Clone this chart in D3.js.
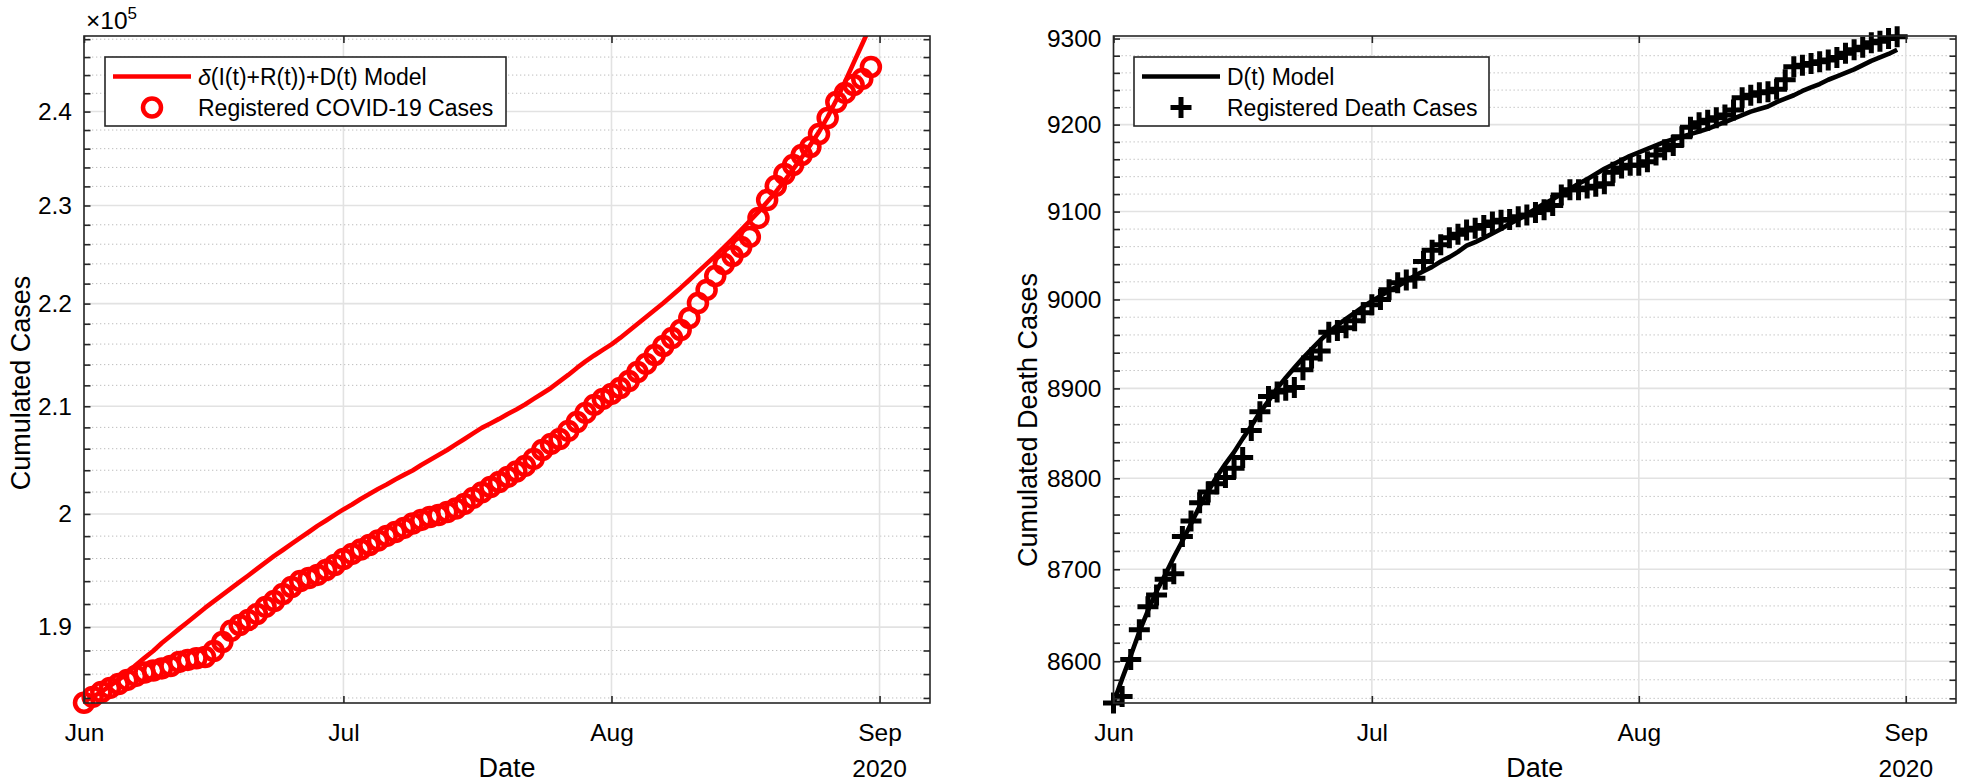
<!DOCTYPE html>
<html>
<head>
<meta charset="utf-8">
<script src="https://cdn.jsdelivr.net/npm/d3@7"></script>
<style>
  html, body { margin: 0; padding: 0; background: #ffffff; }
  svg { display: block; }
  text { font-family: "Liberation Sans", Arial, Helvetica, sans-serif; }
</style>
</head>
<body>
<svg id="chart" width="1961" height="782"></svg>
<script>
// ---------------- DATA ----------------
const startDay = "2020-06-01";           // first observation (one per day)
const xTickDates = ["2020-06-01", "2020-07-01", "2020-08-01", "2020-09-01"];
const xTickLabels = ["Jun", "Jul", "Aug", "Sep"];
const xYearLabel = "2020";

// Registered COVID-19 cases (cumulated), Jun 1 .. Aug 31
const casesObserved = [
  183600, 184090, 184500, 184840, 185170, 185510, 185850, 186140, 186310, 186480,
  186690, 187030, 187200, 187330, 187450, 187960, 188730, 189680, 190190, 190620,
  191140, 191750, 192270, 192880, 193490, 194020, 194280, 194550, 194990, 195430,
  195960, 196410, 196810, 197210, 197610, 198020, 198370, 198740, 199140, 199460,
  199730, 199910, 200180, 200500, 200910, 201460, 201960, 202460, 202920, 203380,
  203890, 204400, 205050, 205880, 206450, 206910, 207670, 208510, 209370, 210130,
  210700, 211180, 211750, 212420, 213290, 214070, 214940, 215820, 216600, 217390,
  218570, 220060, 221370, 222770, 223990, 224800, 225720, 226750, 228710, 230580,
  232050, 233310, 234260, 235330, 236180, 237580, 239310, 241050, 242040, 242910,
  243580, 244900
];
// delta(I(t)+R(t))+D(t) model
const casesModel = [
  183670, 184090, 184500, 185010, 185510, 186100, 186770, 187370, 187960, 188640,
  189240, 189850, 190450, 191050, 191660, 192230, 192790, 193360, 193930, 194500,
  195080, 195650, 196230, 196760, 197300, 197840, 198370, 198920, 199410, 199910,
  200410, 200860, 201360, 201820, 202280, 202690, 203150, 203570, 203980, 204490,
  204950, 205420, 205880, 206400, 206910, 207430, 207950, 208370, 208800, 209270,
  209700, 210170, 210700, 211220, 211750, 212380, 213000, 213680, 214310, 214890,
  215430, 215970, 216600, 217290, 217980, 218670, 219370, 220060, 220810, 221570,
  222370, 223180, 223990, 224800, 225670, 226540, 227470, 228400, 229330, 230370,
  231420, 232570, 233790, 235060, 236400, 237800, 239420, 241270, 243240, 245350,
  247470, 249610
];
// Registered death cases (cumulated)
const deathsObserved = [
  8555, 8562, 8602, 8634, 8659, 8672, 8689, 8695, 8736, 8753,
  8773, 8785, 8794, 8801, 8811, 8823, 8853, 8874, 8891, 8896,
  8898, 8901, 8921, 8934, 8942, 8963, 8965, 8968, 8976, 8985,
  8994, 9000, 9011, 9019, 9022, 9024, 9043, 9056, 9062, 9070,
  9074, 9079, 9081, 9084, 9088, 9090, 9091, 9094, 9096, 9099,
  9102, 9107, 9119, 9125, 9125, 9127, 9129, 9132, 9145, 9150,
  9153, 9153, 9157, 9165, 9171, 9176, 9186, 9197, 9202, 9205,
  9208, 9211, 9217, 9231, 9234, 9237, 9238, 9241, 9252, 9267,
  9269, 9271, 9273, 9275, 9278, 9283, 9287, 9290, 9295, 9297,
  9300, 9302
];
// D(t) model
const deathsModel = [
  8555, 8581, 8606, 8632, 8655, 8676, 8694, 8713, 8731, 8750,
  8769, 8786, 8802, 8816, 8829, 8844, 8858, 8873, 8886, 8900,
  8912, 8923, 8934, 8944, 8954, 8963, 8971, 8978, 8985, 8992,
  8998, 9004, 9010, 9015, 9021, 9027, 9032, 9037, 9043, 9048,
  9054, 9061, 9065, 9070, 9075, 9080, 9086, 9091, 9097, 9103,
  9109, 9114, 9120, 9126, 9132, 9137, 9143, 9149, 9154, 9159,
  9164, 9168, 9172, 9176, 9180, 9183, 9186, 9189, 9192, 9195,
  9199, 9203, 9207, 9211, 9215, 9218, 9221, 9226, 9230, 9234,
  9239, 9243, 9247, 9252, 9256, 9260, 9264, 9269, 9274, 9278,
  9282, 9287
];

const casesYDomain = [183580, 248360];
const casesYTicks = [190000, 200000, 210000, 220000, 230000, 240000];
const casesYTickLabels = ["1.9", "2", "2.1", "2.2", "2.3", "2.4"];
const casesYMinorStep = 2000;

const deathsYDomain = [8555, 9303];
const deathsYTicks = [8600, 8700, 8800, 8900, 9000, 9100, 9200, 9300];
const deathsYTickLabels = ["8600", "8700", "8800", "8900", "9000", "9100", "9200", "9300"];
const deathsYMinorStep = 20;

// ---------------- DRAWING ----------------
const svg = d3.select("#chart");
const parse = d3.utcParse("%Y-%m-%d");
const t0 = parse(startDay);
const dates = casesObserved.map((_, i) => d3.utcDay.offset(t0, i));
const xDomain = [t0, d3.utcHour.offset(parse("2020-09-06"), 20)];
const tickDates = xTickDates.map(parse);

const AX = "#262626";
const TICK_FS = 24.5, LABEL_FS = 27, LEGEND_FS = 23;

function minorTicks(domain, step) {
  const lo = Math.ceil(domain[0] / step) * step;
  return d3.range(lo, domain[1] + 1e-9, step);
}

function drawPanel(o) {
  const x = d3.scaleUtc().domain(xDomain).range([o.left, o.right]);
  const y = d3.scaleLog().domain(o.yDomain).range([o.bottom, o.top]);
  const g = svg.append("g");

  svg.append("clipPath").attr("id", o.id + "clip")
    .append("rect").attr("x", o.left).attr("y", o.top)
    .attr("width", o.right - o.left).attr("height", o.bottom - o.top);

  const minors = minorTicks(o.yDomain, o.minorStep).filter(v => !o.yTicks.includes(v));

  // minor horizontal grid (dotted)
  g.append("g").selectAll("line").data(minors).join("line")
    .attr("x1", o.left).attr("x2", o.right)
    .attr("y1", d => y(d)).attr("y2", d => y(d))
    .attr("stroke", "#bdbdbd").attr("stroke-width", 1)
    .attr("stroke-dasharray", "1.3,2.7");
  // major horizontal grid
  g.append("g").selectAll("line").data(o.yTicks).join("line")
    .attr("x1", o.left).attr("x2", o.right)
    .attr("y1", d => y(d)).attr("y2", d => y(d))
    .attr("stroke", "#e2e2e2").attr("stroke-width", 1.6);
  // vertical grid
  g.append("g").selectAll("line").data(tickDates).join("line")
    .attr("x1", d => x(d)).attr("x2", d => x(d))
    .attr("y1", o.top).attr("y2", o.bottom)
    .attr("stroke", "#e2e2e2").attr("stroke-width", 1.6);

  // model line
  const line = d3.line().x((d, i) => x(dates[i])).y(d => y(d));
  g.append("path").datum(o.model)
    .attr("d", line).attr("fill", "none")
    .attr("stroke", o.color).attr("stroke-width", 4.6)
    .attr("stroke-linejoin", "round")
    .attr("clip-path", `url(#${o.id}clip)`);

  // observed markers
  const mk = g.append("g");
  if (o.marker === "circle") {
    mk.selectAll("circle").data(o.observed).join("circle")
      .attr("cx", (d, i) => x(dates[i])).attr("cy", d => y(d))
      .attr("r", 9).attr("fill", "none")
      .attr("stroke", o.color).attr("stroke-width", 4.5);
  } else {
    mk.selectAll("path").data(o.observed).join("path")
      .attr("transform", (d, i) => `translate(${x(dates[i])},${y(d)})`)
      .attr("d", "M-10.5,0H10.5M0,-10.5V10.5")
      .attr("stroke", o.color).attr("stroke-width", 5).attr("fill", "none");
  }

  // axes box
  g.append("rect").attr("x", o.left).attr("y", o.top)
    .attr("width", o.right - o.left).attr("height", o.bottom - o.top)
    .attr("fill", "none").attr("stroke", AX).attr("stroke-width", 1.6);

  const styleAxis = sel => {
    sel.select(".domain").remove();
    sel.selectAll(".tick line").attr("stroke", AX).attr("stroke-width", 1.6);
    sel.selectAll("text").attr("fill", "#000").attr("font-size", TICK_FS)
      .attr("font-family", '"Liberation Sans", Arial, Helvetica, sans-serif');
  };

  // y axis left (major with labels)
  g.append("g").attr("transform", `translate(${o.left},0)`)
    .call(d3.axisLeft(y).tickValues(o.yTicks)
      .tickFormat((d, i) => o.yLabels[i]).tickSize(-6.5).tickPadding(12))
    .call(styleAxis);
  // y minor ticks left/right, major right
  g.append("g").attr("transform", `translate(${o.left},0)`)
    .call(d3.axisLeft(y).tickValues(minors).tickFormat("").tickSize(-6.5))
    .call(styleAxis);
  g.append("g").attr("transform", `translate(${o.right},0)`)
    .call(d3.axisRight(y).tickValues(o.yTicks.concat(minors)).tickFormat("").tickSize(-6.5))
    .call(styleAxis);

  // x axis bottom and top
  g.append("g").attr("transform", `translate(0,${o.bottom})`)
    .call(d3.axisBottom(x).tickValues(tickDates)
      .tickFormat((d, i) => xTickLabels[i]).tickSize(-7).tickPadding(21))
    .call(styleAxis);
  g.append("g").attr("transform", `translate(0,${o.top})`)
    .call(d3.axisTop(x).tickValues(tickDates).tickFormat("").tickSize(-7))
    .call(styleAxis);

  // year label under the last tick
  g.append("text").attr("x", x(tickDates[tickDates.length - 1])).attr("y", 777)
    .attr("text-anchor", "middle").attr("font-size", TICK_FS).attr("fill", "#000")
    .text(xYearLabel);

  // axis titles
  g.append("text").attr("x", (o.left + o.right) / 2).attr("y", 777)
    .attr("text-anchor", "middle").attr("font-size", LABEL_FS).attr("fill", "#000")
    .text("Date");
  g.append("text")
    .attr("transform", `translate(${o.ylabelX},${o.ylabelY}) rotate(-90)`)
    .attr("text-anchor", "middle").attr("font-size", LABEL_FS).attr("fill", "#000")
    .text(o.ylabel);

  // legend
  const L = o.legend;
  const lg = g.append("g");
  lg.append("rect").attr("x", L.x).attr("y", L.y).attr("width", L.w).attr("height", L.h)
    .attr("fill", "#fff").attr("stroke", AX).attr("stroke-width", 1.6);
  lg.append("line").attr("x1", L.x + 8).attr("x2", L.x + 86)
    .attr("y1", L.y + 19.5).attr("y2", L.y + 19.5)
    .attr("stroke", o.color).attr("stroke-width", 4.6);
  const mx = L.x + 47, my = L.y + 50.5;
  if (o.marker === "circle") {
    lg.append("circle").attr("cx", mx).attr("cy", my).attr("r", 9)
      .attr("fill", "none").attr("stroke", o.color).attr("stroke-width", 4.5);
  } else {
    lg.append("path").attr("transform", `translate(${mx},${my})`)
      .attr("d", "M-10.5,0H10.5M0,-10.5V10.5")
      .attr("stroke", o.color).attr("stroke-width", 5);
  }
  const t1 = lg.append("text").attr("x", L.x + 93).attr("y", L.y + 28)
    .attr("font-size", LEGEND_FS).attr("fill", "#000");
  L.label1(t1);
  lg.append("text").attr("x", L.x + 93).attr("y", L.y + 59)
    .attr("font-size", LEGEND_FS).attr("fill", "#000").text(L.label2);
}

// left panel
drawPanel({
  id: "cases", left: 84, right: 930, top: 36, bottom: 703,
  yDomain: casesYDomain, yTicks: casesYTicks, yLabels: casesYTickLabels,
  minorStep: casesYMinorStep,
  model: casesModel, observed: casesObserved, color: "#ff0000", marker: "circle",
  ylabel: "Cumulated Cases", ylabelX: 30, ylabelY: 383,
  legend: {
    x: 105, y: 57, w: 401, h: 69,
    label1: t => {
      t.append("tspan").attr("font-style", "italic").text("δ");
      t.append("tspan").text("(I(t)+R(t))+D(t) Model");
    },
    label2: "Registered COVID-19 Cases"
  }
});

// exponent label for left panel
const expT = svg.append("text").attr("x", 86).attr("y", 29)
  .attr("font-size", TICK_FS).attr("fill", "#000");
expT.append("tspan").text("×10");
expT.append("tspan").attr("dy", -10).attr("font-size", 17).text("5");

// right panel
drawPanel({
  id: "deaths", left: 1113.5, right: 1956, top: 36, bottom: 703,
  yDomain: deathsYDomain, yTicks: deathsYTicks, yLabels: deathsYTickLabels,
  minorStep: deathsYMinorStep,
  model: deathsModel, observed: deathsObserved, color: "#000000", marker: "plus",
  ylabel: "Cumulated Death Cases", ylabelX: 1037, ylabelY: 420,
  legend: {
    x: 1134, y: 57, w: 355, h: 69,
    label1: t => t.text("D(t) Model"),
    label2: "Registered Death Cases"
  }
});
</script>
</body>
</html>
